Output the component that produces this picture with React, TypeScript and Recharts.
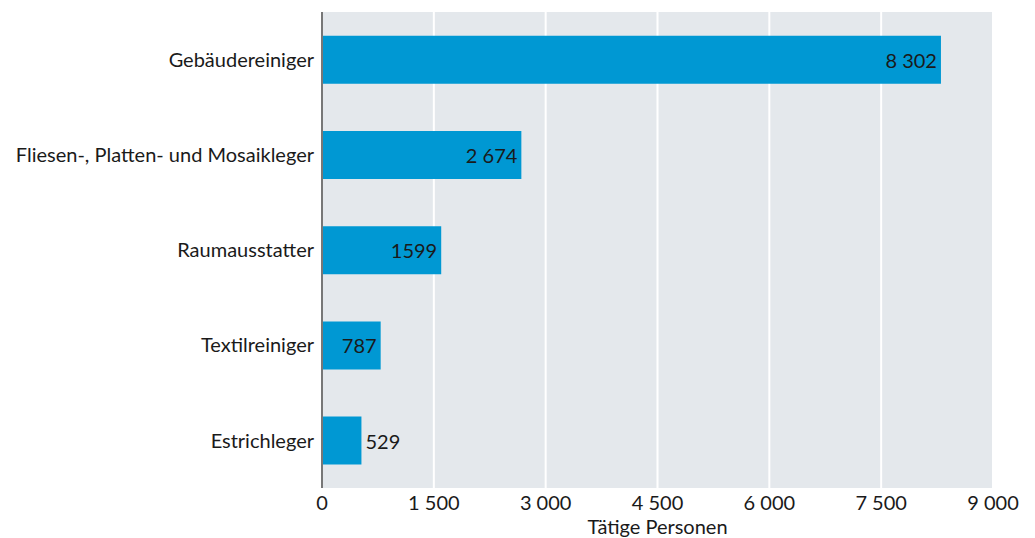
import React from 'react';
import { BarChart, Bar, XAxis, YAxis, CartesianGrid, LabelList } from 'recharts';

// --- Data ---
const categories = [
    'Gebäudereiniger',
    'Fliesen-, Platten- und Mosaikleger',
    'Raumausstatter',
    'Textilreiniger',
    'Estrichleger',
];
const persons = [8302, 2674, 1599, 787, 529];
const valueLabels = ['8 302', '2 674', '1599', '787', '529'];
const xTicks = [0, 1500, 3000, 4500, 6000, 7500, 9000];
const xTickLabels = ['0', '1 500', '3 000', '4 500', '6 000', '7 500', '9 000'];

const data = categories.map((name, i) => ({ name, value: persons[i], label: valueLabels[i] }));

const FONT = 'Lato, "Noto Sans", sans-serif';
const TEXT = '#1a1a1a';
const FS = 20;

const ValueLabel = (props: any) => {
    const { x, y, width, height, index } = props;
    const text = valueLabels[index];
    const inside = width > 50;
    const cy = y + height / 2 + 3;
    return (
        <text
            x={inside ? x + width - 4 : x + width + 4}
            y={cy}
            textAnchor={inside ? 'end' : 'start'}
            dominantBaseline="middle"
            fontSize={FS}
            fontFamily={FONT}
            fill={TEXT}
        >
            {text}
        </text>
    );
};

export default function App() {
    return (
        <div style={{ width: 1035, height: 538, background: '#fff' }}>
            <style>{'body{margin:0}'}</style>
            <BarChart
                width={1035}
                height={538}
                data={data}
                layout="vertical"
                margin={{ top: 12, right: 42, bottom: 0, left: 0 }}
                barCategoryGap="25%"
            >
                <CartesianGrid
                    horizontal={false}
                    fill="#e4e8ec"
                    stroke="#ffffff"
                    strokeWidth={2}
                    fillOpacity={1}
                />
                <XAxis
                    type="number"
                    domain={[0, 9000]}
                    ticks={xTicks}
                    tickFormatter={(v: number) => xTickLabels[xTicks.indexOf(v)]}
                    axisLine={false}
                    tickLine={false}
                    height={50}
                    interval={0}
                    tick={{ fontSize: FS, fontFamily: FONT, fill: TEXT }}
                    label={{
                        value: 'Tätige Personen',
                        position: 'insideBottom',
                        offset: 4,
                        fontSize: FS,
                        fontFamily: FONT,
                        fill: TEXT,
                    }}
                />
                <YAxis
                    type="category"
                    dataKey="name"
                    width={322}
                    axisLine={{ stroke: '#777777', strokeWidth: 2 }}
                    tickLine={false}
                    tick={{ fontSize: FS, fontFamily: FONT, fill: TEXT }}
                />
                <Bar dataKey="value" fill="#0098d3" isAnimationActive={false}>
                    <LabelList dataKey="label" content={<ValueLabel />} />
                </Bar>
            </BarChart>
        </div>
    );
}
